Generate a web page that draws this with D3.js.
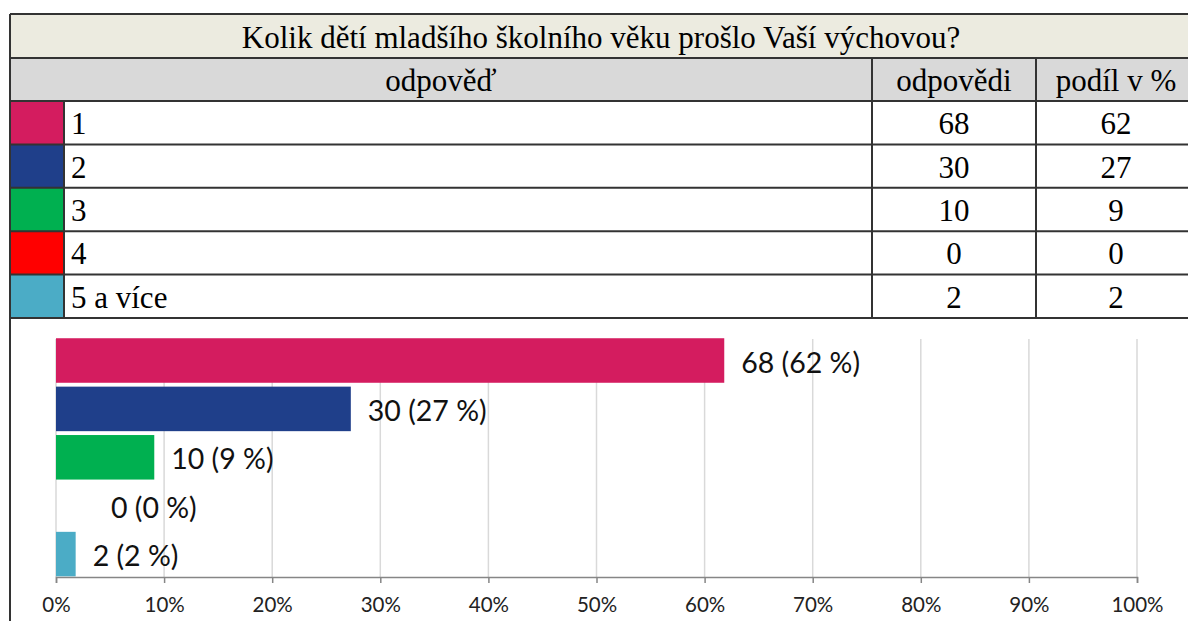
<!DOCTYPE html>
<html>
<head>
<meta charset="utf-8">
<script src="https://cdn.jsdelivr.net/npm/d3@7"></script>
<style>
  body { margin: 0; background: #fff; }
  svg { display: block; }
</style>
</head>
<body>
<div id="chart"></div>
<script>
// data
const title = "Kolik dětí mladšího školního věku prošlo Vaší výchovou?";
const headers = ["odpověď", "odpovědi", "podíl v %"];
const categories = ["1", "2", "3", "4", "5 a více"];
const counts = [68, 30, 10, 0, 2];
const shares = [62, 27, 9, 0, 2];
const colors = ["#d41c5f", "#1f3f8a", "#00b050", "#ff0000", "#4bacc6"];
const xTicks = [0, 0.1, 0.2, 0.3, 0.4, 0.5, 0.6, 0.7, 0.8, 0.9, 1];

const total = d3.sum(counts);
const rows = categories.map((c, i) => ({ cat: c, count: counts[i], share: shares[i], color: colors[i] }));

const W = 1188, H = 621;
const svg = d3.select("#chart").append("svg")
  .attr("width", W)
  .attr("height", H);

// table geometry
const tLeft = 10, tRight = 1200, swatchRight = 64, col1 = 872, col2 = 1036;
const titleTop = 14, headTop = 58, headBottom = 101, tableBottom = 318;
const serif = "'Liberation Serif', 'Times New Roman', serif";
const serifSize = "31px";
const border = "#333";

// title row
svg.append("rect")
  .attr("x", tLeft).attr("y", titleTop)
  .attr("width", tRight - tLeft).attr("height", headTop - titleTop)
  .attr("fill", "#ecebe0");
svg.append("text")
  .attr("x", 601).attr("y", (titleTop + headTop) / 2 + 1)
  .attr("text-anchor", "middle").attr("dominant-baseline", "central")
  .style("font-family", serif).style("font-size", serifSize)
  .text(title);

// header row
svg.append("rect")
  .attr("x", tLeft).attr("y", headTop)
  .attr("width", tRight - tLeft).attr("height", headBottom - headTop)
  .attr("fill", "#d9d9d9");
const headCenters = [(tLeft + col1) / 2, (col1 + col2) / 2, (col2 + tRight) / 2 - 2];
svg.selectAll(".head")
  .data(headers)
  .enter()
  .append("text")
  .attr("x", (d, i) => headCenters[i])
  .attr("y", (headTop + headBottom) / 2 + 1)
  .attr("text-anchor", "middle").attr("dominant-baseline", "central")
  .style("font-family", serif).style("font-size", serifSize)
  .text(d => d);

// data rows
const rowY = d3.scaleBand()
  .domain(categories)
  .range([headBottom, tableBottom]);

const tr = svg.selectAll(".row")
  .data(rows)
  .enter()
  .append("g");
tr.append("rect")
  .attr("x", tLeft).attr("y", d => rowY(d.cat))
  .attr("width", swatchRight - tLeft).attr("height", rowY.bandwidth())
  .attr("fill", d => d.color);
tr.append("text")
  .attr("x", 71).attr("y", d => rowY(d.cat) + rowY.bandwidth() / 2 + 1)
  .attr("dominant-baseline", "central")
  .style("font-family", serif).style("font-size", serifSize)
  .text(d => d.cat);
tr.append("text")
  .attr("x", headCenters[1]).attr("y", d => rowY(d.cat) + rowY.bandwidth() / 2 + 1)
  .attr("text-anchor", "middle").attr("dominant-baseline", "central")
  .style("font-family", serif).style("font-size", serifSize)
  .text(d => d.count);
tr.append("text")
  .attr("x", headCenters[2]).attr("y", d => rowY(d.cat) + rowY.bandwidth() / 2 + 1)
  .attr("text-anchor", "middle").attr("dominant-baseline", "central")
  .style("font-family", serif).style("font-size", serifSize)
  .text(d => d.share);

// table lines
const hLines = [titleTop, headTop, headBottom].concat(categories.slice(1).map(c => rowY(c))).concat([tableBottom]);
svg.selectAll(".hline")
  .data(hLines)
  .enter()
  .append("line")
  .attr("x1", tLeft).attr("x2", tRight)
  .attr("y1", d => d).attr("y2", d => d)
  .attr("stroke", border).attr("stroke-width", 2);
svg.append("line")
  .attr("x1", tLeft).attr("x2", tLeft)
  .attr("y1", titleTop).attr("y2", H)
  .attr("stroke", border).attr("stroke-width", 2);
svg.append("line")
  .attr("x1", swatchRight).attr("x2", swatchRight)
  .attr("y1", headBottom).attr("y2", tableBottom)
  .attr("stroke", border).attr("stroke-width", 2);
[col1, col2].forEach(cx => {
  svg.append("line")
    .attr("x1", cx).attr("x2", cx)
    .attr("y1", headTop).attr("y2", tableBottom)
    .attr("stroke", border).attr("stroke-width", 2);
});

// bar chart
const sans = "Lato, 'Open Sans', sans-serif";
const x = d3.scaleLinear().domain([0, 1]).range([56, 1137]);
const y = d3.scaleBand()
  .domain(categories)
  .range([336.3, 578.3])
  .paddingInner(0.08)
  .paddingOuter(0.04);
const axisY = 577;

svg.selectAll(".grid")
  .data(xTicks)
  .enter()
  .append("line")
  .attr("x1", d => x(d)).attr("x2", d => x(d))
  .attr("y1", 339).attr("y2", axisY)
  .attr("stroke", "#d9d9d9").attr("stroke-width", 1.5);

svg.selectAll(".bar")
  .data(rows)
  .enter()
  .append("rect")
  .attr("x", x(0))
  .attr("y", d => y(d.cat))
  .attr("width", d => x(d.count / total) - x(0))
  .attr("height", y.bandwidth())
  .attr("fill", d => d.color);

svg.selectAll(".lbl")
  .data(rows)
  .enter()
  .append("text")
  .attr("x", d => x(d.count / total) + (d.count === 0 ? 55 : 17))
  .attr("y", d => y(d.cat) + y.bandwidth() / 2 + 1)
  .attr("dominant-baseline", "central")
  .style("font-family", sans).style("font-size", "28.5px")
  .style("fill", "#111")
  .text(d => `${d.count} (${d.share} %)`);

const axis = svg.append("g")
  .attr("transform", `translate(0,${axisY})`)
  .call(d3.axisBottom(x).tickValues(xTicks).tickFormat(d3.format(".0%")).tickSize(6).tickPadding(14));
axis.select(".domain").attr("stroke", "#868686").attr("stroke-width", 1.5);
axis.selectAll(".tick line").attr("stroke", "#868686").attr("stroke-width", 1.5);
axis.selectAll(".tick text")
  .style("font-family", sans).style("font-size", "20.5px")
  .attr("fill", "#222");
</script>
</body>
</html>
